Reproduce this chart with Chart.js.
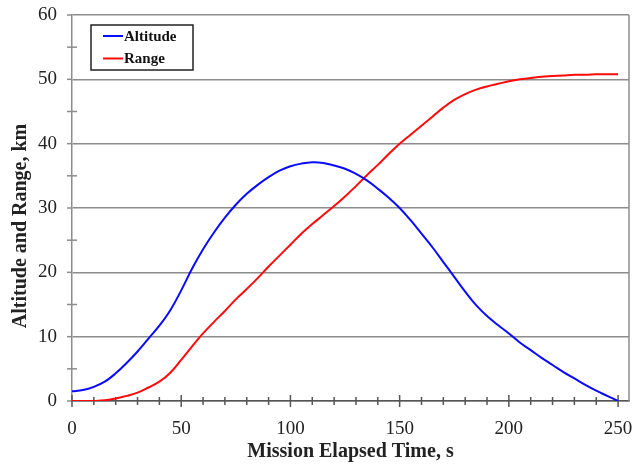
<!DOCTYPE html>
<html>
<head>
<meta charset="utf-8">
<script src="https://cdn.jsdelivr.net/npm/chart.js@4.4.0/dist/chart.umd.min.js"></script>
<style>
  body { margin: 0; background: #fff; }
</style>
</head>
<body>
<canvas id="chart" width="642" height="464"></canvas>
<script>
const times = [0, 5, 10, 15, 20, 25, 30, 35, 40, 45, 50, 55, 60, 65, 70, 75, 80, 85, 90, 95,
  100, 105, 110, 115, 120, 125, 130, 135, 140, 145, 150, 155, 160, 165, 170, 175, 180, 185, 190, 195,
  200, 205, 210, 215, 220, 225, 230, 235, 240, 245, 250]

const altitude = [1.5, 1.7, 2.2, 3.0, 4.3, 5.9, 7.7, 9.7, 11.7, 14.1, 17.2, 20.6, 23.6, 26.2, 28.5, 30.5, 32.2, 33.6, 34.8, 35.8,
  36.5, 36.9, 37.1, 37.0, 36.6, 36.1, 35.3, 34.3, 33.0, 31.6, 30.0, 28.1, 26.0, 23.9, 21.6, 19.3, 17.0, 14.9, 13.2, 11.8,
  10.5, 9.1, 7.9, 6.7, 5.6, 4.5, 3.5, 2.5, 1.6, 0.8, 0.0]

const range = [0, 0, 0, 0.1, 0.4, 0.8, 1.3, 2.1, 3.0, 4.4, 6.4, 8.5, 10.5, 12.3, 14.0, 15.8, 17.4, 19.1, 20.9, 22.6,
  24.3, 26.0, 27.5, 28.9, 30.3, 31.8, 33.4, 35.1, 36.7, 38.4, 40.0, 41.4, 42.8, 44.2, 45.6, 46.8, 47.7, 48.4, 48.9, 49.3,
  49.7, 50.0, 50.2, 50.4, 50.5, 50.6, 50.7, 50.7, 50.8, 50.8, 50.8]

const xTickLabels = [0, 50, 100, 150, 200, 250]
const yTickLabels = [0, 10, 20, 30, 40, 50, 60]
const yTitle = 'Altitude and Range, km'

const serif = '"Liberation Serif", "Times New Roman", serif'

// small crossing tick marks, right border, y title and the boxed legend
const decorations = {
  id: 'decorations',
  beforeDatasetsDraw(chart) {
    const ctx = chart.ctx
    const area = chart.chartArea
    const x = chart.scales.x
    const y = chart.scales.y
    ctx.save()
    ctx.lineWidth = 1.5
    ctx.strokeStyle = '#8c8c8c'
    ctx.beginPath()
    ctx.moveTo(area.right, area.top)
    ctx.lineTo(area.right, area.bottom)
    ctx.stroke()
    for (let v = 0; v <= 60; v += 5) {
      const py = y.getPixelForValue(v)
      ctx.beginPath()
      ctx.moveTo(area.left - 5, py)
      ctx.lineTo(area.left + (v % 10 === 0 ? 0 : 5), py)
      ctx.stroke()
    }
    ctx.strokeStyle = '#555'
    for (let t = 0; t <= 250; t += 10) {
      const px = x.getPixelForValue(t)
      const len = t % 50 === 0 ? 6 : 4
      ctx.beginPath()
      ctx.moveTo(px, area.bottom - len)
      ctx.lineTo(px, area.bottom + len)
      ctx.stroke()
    }
    // y title sits a little below the middle of the axis, as in the original
    ctx.translate(21, (area.top + area.bottom) / 2 + 18)
    ctx.rotate(-Math.PI / 2)
    ctx.font = 'bold 20px ' + serif
    ctx.fillStyle = '#222'
    ctx.textAlign = 'center'
    ctx.textBaseline = 'middle'
    ctx.fillText(yTitle, 0, 0)
    ctx.restore()
  },
  afterDatasetsDraw(chart) {
    const ctx = chart.ctx
    const area = chart.chartArea
    const bx = area.left + 19
    const by = area.top + 10
    ctx.save()
    ctx.fillStyle = '#fff'
    ctx.fillRect(bx, by, 102, 45)
    ctx.lineWidth = 1.5
    ctx.strokeStyle = '#222'
    ctx.strokeRect(bx, by, 102, 45)
    ctx.font = 'bold 15px ' + serif
    ctx.textBaseline = 'middle'
    chart.data.datasets.forEach((ds, i) => {
      const ly = by + 11 + i * 22.5
      ctx.strokeStyle = ds.borderColor
      ctx.lineWidth = 2
      ctx.beginPath()
      ctx.moveTo(bx + 12, ly)
      ctx.lineTo(bx + 32, ly)
      ctx.stroke()
      ctx.fillStyle = '#111'
      ctx.fillText(ds.label, bx + 33, ly + 1)
    })
    ctx.restore()
  }
}

const config = {
  type: 'line',
  data: {
    datasets: [{
      label: 'Altitude',
      data: times.map((t, i) => ({ x: t, y: altitude[i] })),
      borderColor: '#0a0aff',
      borderWidth: 2,
      pointRadius: 0,
      tension: 0.4
    }, {
      label: 'Range',
      data: times.map((t, i) => ({ x: t, y: range[i] })),
      borderColor: '#ff0a0a',
      borderWidth: 2,
      pointRadius: 0,
      tension: 0.4
    }]
  },
  options: {
    responsive: false,
    devicePixelRatio: 1,
    animation: false,
    layout: { padding: { left: 0, top: 15, right: 13, bottom: 0 } },
    plugins: {
      legend: { display: false },
      tooltip: { enabled: false }
    },
    scales: {
      x: {
        type: 'linear',
        min: 0,
        max: 255,
        afterBuildTicks: (scale) => { scale.ticks = xTickLabels.map(v => ({ value: v })) },
        afterFit: (scale) => {
          scale.height = 63
          scale.paddingLeft = 0
          scale.paddingRight = 0
        },
        grid: { display: true, drawOnChartArea: false, drawTicks: false },
        border: { display: true, color: '#555', width: 1.5 },
        ticks: {
          padding: 17,
          color: '#222',
          maxRotation: 0,
          autoSkip: false,
          font: { family: serif, size: 19 }
        },
        title: {
          display: true,
          text: 'Mission Elapsed Time, s',
          color: '#222',
          padding: { top: 0, bottom: 0 },
          font: { family: serif, size: 20, weight: 'bold', lineHeight: 1.2 }
        }
      },
      y: {
        min: 0,
        max: 60,
        afterBuildTicks: (scale) => { scale.ticks = yTickLabels.map(v => ({ value: v })) },
        afterFit: (scale) => {
          scale.width = 72
          scale.paddingTop = 0
          scale.paddingBottom = 0
        },
        grid: { color: '#8c8c8c', lineWidth: 1.5, drawTicks: false },
        border: { display: true, color: '#8c8c8c', width: 1.5 },
        ticks: {
          padding: 15,
          color: '#222',
          font: { family: serif, size: 19 }
        },
        title: { display: false }
      }
    }
  },
  plugins: [decorations]
}

const chart = new Chart(document.getElementById('chart'), config)
</script>
</body>
</html>
